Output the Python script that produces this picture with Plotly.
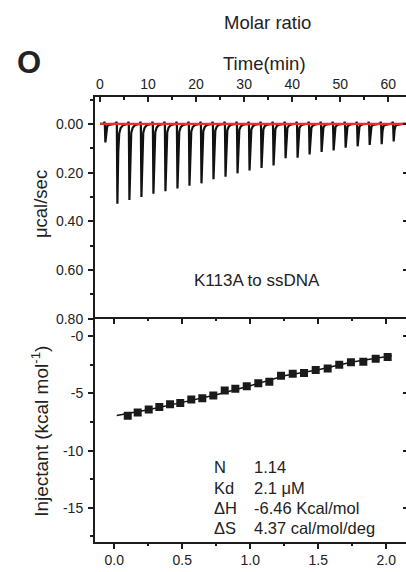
import plotly.graph_objects as go

# ---------------- data ----------------
# raw thermogram: injection start times (min) and peak depths (ucal/sec, plotted downward)
inj_time = [1.0, 3.5, 6.0, 8.5, 11.0, 13.5, 16.0, 18.5, 21.0, 23.5, 26.0, 28.5, 31.0,
            33.5, 36.0, 38.5, 41.0, 43.5, 46.0, 48.5, 51.0, 53.5, 56.0, 58.5, 61.0]
peak_depth = [0.076, 0.328, 0.312, 0.300, 0.287, 0.276, 0.265, 0.254, 0.244, 0.227,
              0.217, 0.203, 0.191, 0.181, 0.171, 0.141, 0.139, 0.125, 0.115, 0.109,
              0.098, 0.092, 0.086, 0.083, 0.072]
baseline_time = [0.0, 64.0]
baseline_val = [0.0, 0.0]

# integrated heats
molar_ratio = [0.099, 0.172, 0.253, 0.331, 0.410, 0.485, 0.566, 0.647, 0.728, 0.812,
               0.890, 0.974, 1.059, 1.140, 1.226, 1.312, 1.395, 1.481, 1.569, 1.654,
               1.740, 1.831, 1.922, 2.010]
heat = [-6.96, -6.66, -6.41, -6.18, -5.95, -5.84, -5.54, -5.41, -5.17, -4.74,
        -4.59, -4.37, -4.11, -3.97, -3.45, -3.28, -3.22, -2.96, -2.82, -2.50,
        -2.27, -2.22, -1.96, -1.81]
fit_x = [0.018, 0.25, 0.5, 0.75, 1.0, 1.25, 1.5, 1.75, 2.04]
fit_y = [-6.92, -6.42, -5.78, -5.12, -4.33, -3.45, -2.92, -2.26, -1.70]

time_ticks = [0, 10, 20, 30, 40, 50, 60]
ucal_ticks = [0.0, 0.2, 0.4, 0.6, 0.8]
ratio_ticks = [0.0, 0.5, 1.0, 1.5, 2.0]
heat_ticks = [0, -5, -10, -15]
heat_ticktext = ["-0", "-5", "-10", "-15"]

stats_labels = ["N", "Kd", "ΔH", "ΔS"]
stats_values = ["1.14", "2.1 μM", "-6.46 Kcal/mol", "4.37 cal/mol/deg"]

# ---------------- build raw trace path from peak data ----------------
raw_x = [0.0]
raw_y = [0.0]
for t, d in zip(inj_time, peak_depth):
    raw_x += [t - 0.2, t - 0.08, t, t + 0.12, t + 0.3, t + 0.5, t + 0.8, t + 1.3, t + 2.0]
    raw_y += [0.0, -0.009, 0.0, d, 0.35 * d, 0.12 * d, 0.05 * d, 0.015 * d, 0.003 * d]
raw_x.append(64.0)
raw_y.append(0.0)

# ---------------- geometry (pixels -> paper) ----------------
W, H = 406, 572
def px(x):
    return x / W
def py(y):
    return 1 - y / H

LINE = "#1c1c1c"
TXT = "#222222"
FONT = "Arial, Liberation Sans, sans-serif"

x_dom = [px(95), 1.0]
top_dom = [py(323.3), py(98)]
bot_dom = [py(549.3), py(323.3)]

t_range = [(95 - 100) / 4.805, (406 - 100) / 4.805]
u_range = [0.800, -0.112]
r_range = [(95 - 114.3) / 136, (406 - 114.3) / 136]
h_range = [-17.96, 1.53]

fig = go.Figure()

fig.add_trace(go.Scatter(x=raw_x, y=raw_y, mode="lines", xaxis="x", yaxis="y",
                         line=dict(color="#111111", width=2.2), showlegend=False,
                         hoverinfo="skip"))
fig.add_trace(go.Scatter(x=baseline_time, y=baseline_val, mode="lines", xaxis="x", yaxis="y",
                         line=dict(color="#e5312c", width=2.2), showlegend=False))
fig.add_trace(go.Scatter(x=fit_x, y=fit_y, mode="lines", xaxis="x2", yaxis="y2",
                         line=dict(color="#111111", width=1.5), showlegend=False))
fig.add_trace(go.Scatter(x=molar_ratio, y=heat, mode="markers", xaxis="x2", yaxis="y2",
                         marker=dict(symbol="square", size=8, color="#1a1a1a"),
                         showlegend=False))
# empty traces so overlay axes get drawn
fig.add_trace(go.Scatter(x=[], y=[], xaxis="x3", yaxis="y2", showlegend=False))
fig.add_trace(go.Scatter(x=[], y=[], xaxis="x", yaxis="y3", showlegend=False))
fig.add_trace(go.Scatter(x=[], y=[], xaxis="x2", yaxis="y4", showlegend=False))

tickfont = dict(family=FONT, size=14, color=TXT)

fig.update_layout(
    width=W, height=H, autosize=False,
    margin=dict(l=0, r=0, t=0, b=0),
    paper_bgcolor="white", plot_bgcolor="white",
    showlegend=False,
    xaxis=dict(domain=x_dom, anchor="y", side="top", range=t_range,
               tickmode="array", tickvals=time_ticks, ticks="inside", ticklen=5,
               tickwidth=1.5, tickcolor=LINE,
               minor=dict(tickvals=[5, 15, 25, 35, 45, 55], ticks="inside", ticklen=3,
                          tickwidth=1.5, tickcolor=LINE),
               showline=True, linewidth=2, linecolor=LINE, showgrid=False, zeroline=False,
               tickfont=tickfont),
    yaxis=dict(domain=top_dom, anchor="x", range=u_range,
               tickmode="array", tickvals=ucal_ticks, tickformat=".2f",
               ticks="outside", ticklen=5, tickwidth=1.5, tickcolor=LINE,
               minor=dict(tickvals=[-0.1, 0.1, 0.3, 0.5, 0.7], ticks="outside", ticklen=3,
                          tickwidth=1.5, tickcolor=LINE),
               showline=True, linewidth=2, linecolor=LINE, showgrid=False, zeroline=False,
               tickfont=tickfont, ticklabelstandoff=2),
    yaxis3=dict(overlaying="y", anchor="x", side="right", range=u_range,
                tickmode="array", tickvals=ucal_ticks, ticks="inside", ticklen=3,
                tickwidth=1.5, tickcolor=LINE, showticklabels=False,
                showline=False, showgrid=False, zeroline=False),
    xaxis2=dict(domain=x_dom, anchor="y2", side="bottom", range=r_range,
                tickmode="array", tickvals=ratio_ticks, tickformat=".1f",
                ticks="outside", ticklen=5, tickwidth=1.5, tickcolor=LINE,
                minor=dict(tickvals=[0.25, 0.75, 1.25, 1.75], ticks="outside", ticklen=2,
                           tickwidth=1.5, tickcolor=LINE),
                showline=True, linewidth=2, linecolor=LINE, showgrid=False, zeroline=False,
                tickfont=tickfont),
    xaxis3=dict(overlaying="x2", anchor="y2", side="top", range=r_range,
                tickmode="array", tickvals=ratio_ticks, ticks="inside", ticklen=5,
                tickwidth=1.5, tickcolor=LINE,
                minor=dict(tickvals=[0.25, 0.75, 1.25, 1.75], ticks="inside", ticklen=2,
                           tickwidth=1.5, tickcolor=LINE),
                showticklabels=False, showline=True, linewidth=2, linecolor=LINE,
                showgrid=False, zeroline=False),
    yaxis2=dict(domain=bot_dom, anchor="x2", range=h_range,
                tickmode="array", tickvals=heat_ticks, ticktext=heat_ticktext,
                ticks="outside", ticklen=5, tickwidth=1.5, tickcolor=LINE,
                minor=dict(tickvals=[-2.5, -7.5, -12.5, -17.5], ticks="outside", ticklen=3,
                           tickwidth=1.5, tickcolor=LINE),
                showline=True, linewidth=2, linecolor=LINE, showgrid=False, zeroline=False,
                tickfont=tickfont, ticklabelstandoff=2),
    yaxis4=dict(overlaying="y2", anchor="x2", side="right", range=h_range,
                tickmode="array", tickvals=heat_ticks, ticks="inside", ticklen=3,
                tickwidth=1.5, tickcolor=LINE, showticklabels=False,
                showline=False, showgrid=False, zeroline=False),
)

def ann(text, x, y, size, xanchor="center", angle=0, bold=False):
    fig.add_annotation(text=("<b>%s</b>" % text) if bold else text,
                       x=px(x), y=py(y), xref="paper", yref="paper",
                       xanchor=xanchor, yanchor="middle", showarrow=False,
                       textangle=angle,
                       font=dict(family=FONT, size=size, color=TXT))

ann("Molar ratio", 267, 23, 18.5)
ann("Time(min)", 264.5, 64, 18.5)
ann("O", 29, 63.5, 31, bold=True)
ann("μcal/sec", 40, 207, 18.5, angle=-90)
ann("Injectant (kcal mol<sup>-1</sup>)", 40, 438, 19, angle=-90)
ann("K113A to ssDNA", 256.5, 284, 17)

rows_y = [474, 494.5, 515, 535]
for lab, val, yy in zip(stats_labels, stats_values, rows_y):
    ann(lab, 212, yy, 16.5, xanchor="left")
    ann(val, 252, yy, 16.5, xanchor="left")

fig.write_html("out.html")
